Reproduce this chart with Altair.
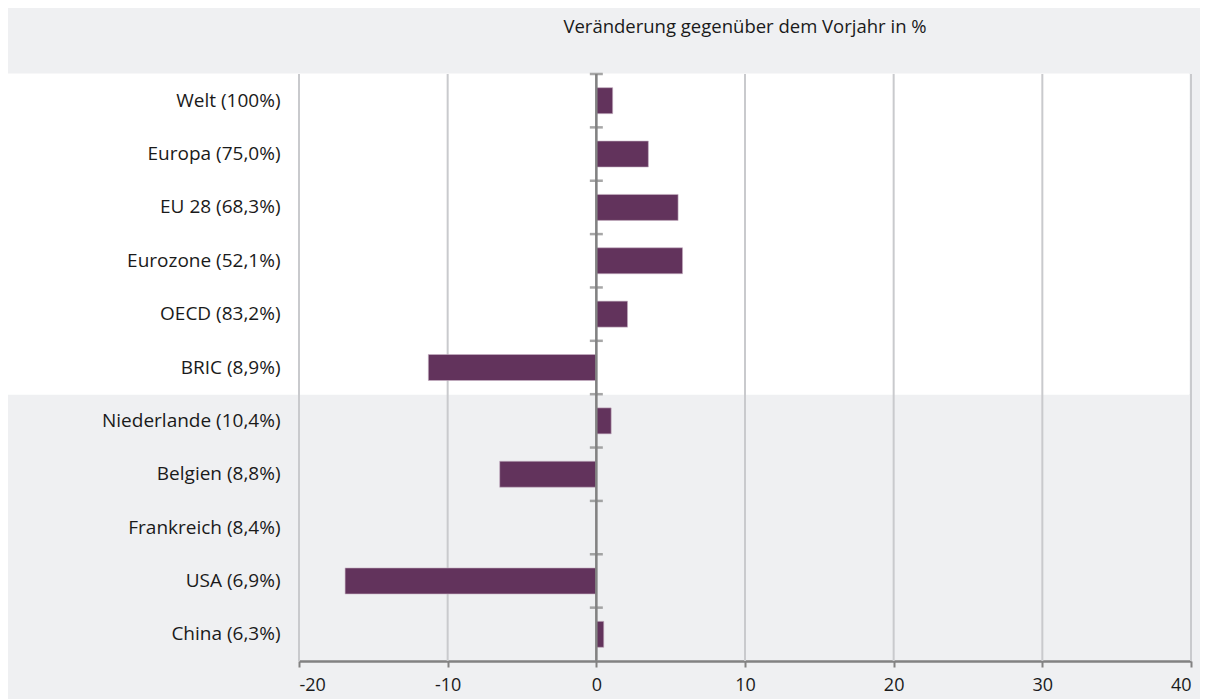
import altair as alt
import pandas as pd

categories = ["Welt (100%)", "Europa (75,0%)", "EU 28 (68,3%)", "Eurozone (52,1%)",
              "OECD (83,2%)", "BRIC (8,9%)", "Niederlande (10,4%)", "Belgien (8,8%)",
              "Frankreich (8,4%)", "USA (6,9%)", "China (6,3%)"]
values = [1.1, 3.5, 5.5, 5.8, 2.1, -11.3, 1.0, -6.5, 0.0, -16.9, 0.5]
highlighted = categories[:6]
x_ticks = [-20, -10, 0, 10, 20, 30, 40]
title_text = "Veränderung gegenüber dem Vorjahr in %"

df = pd.DataFrame({"cat": categories, "val": values})
hl = pd.DataFrame({"cat": highlighted})

FONT = "Open Sans"
BG = "#eff0f2"
BAR = "#62335c"
AXIS = "#828282"
GRID = "#c9cacd"
TXT = "#1a1a1a"

yscale = alt.Scale(domain=categories, paddingInner=0, paddingOuter=0)
xscale = alt.Scale(domain=[-20, 40], nice=False, zero=False)

band = alt.Chart(hl).mark_rect(color="white", stroke="white", strokeWidth=1).encode(
    y=alt.Y("cat:N", scale=yscale, sort=categories, title=None,
            axis=alt.Axis(domain=False, ticks=False, labelPadding=19,
                          labelFont=FONT, labelFontSize=19, labelColor=TXT,
                          grid=False)),
    x=alt.value(-291),
    x2=alt.value(890),
)

grid = alt.Chart(pd.DataFrame({"t": x_ticks})).mark_rule(color=GRID, strokeWidth=2).encode(
    x=alt.X("t:Q", scale=xscale, title=None,
            axis=alt.Axis(values=x_ticks, grid=False, domainColor=AXIS, domainWidth=2.5,
                          tickColor=AXIS, tickWidth=2, tickSize=6, labelPadding=9,
                          labelExpr="datum.value < 0 ? '-' + abs(datum.value) : '' + datum.value",
                          labelFont=FONT, labelFontSize=18, labelColor=TXT)),
)

bars = alt.Chart(df).mark_bar(size=26, color=BAR, stroke="#c8b3c4", strokeWidth=0.6).encode(
    x=alt.X("val:Q", scale=xscale),
    y=alt.Y("cat:N", scale=yscale, sort=categories),
)

zero = alt.Chart(pd.DataFrame({"z": [0]})).mark_rule(color=AXIS, strokeWidth=2.5).encode(
    x=alt.X("z:Q", scale=xscale),
)

ticks = alt.Chart(df).mark_tick(orient="horizontal", size=13, thickness=2.5, color=AXIS).encode(
    x=alt.datum(0, scale=xscale),
    y=alt.Y("cat:N", scale=yscale, sort=categories, bandPosition=0),
)

chart = alt.layer(band, grid, bars, zero, ticks).properties(
    width=892, height=587,
    background=BG,
    padding={"left": 291, "top": 66, "right": 9, "bottom": 38},
    autosize=alt.AutoSizeParams(type="none"),
    title=alt.TitleParams(title_text, font=FONT, fontSize=18.5, fontWeight="normal",
                          color=TXT, anchor="middle", frame="group", offset=36),
).configure_view(stroke=None)

chart.save("out.html", embed_options={"renderer": "svg", "actions": False})
